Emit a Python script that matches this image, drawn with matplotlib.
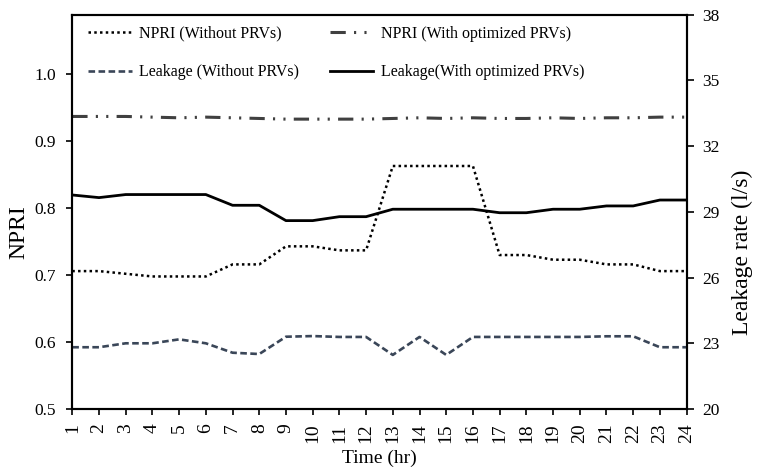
import matplotlib
matplotlib.use("Agg")
import matplotlib.pyplot as plt

hours = list(range(1, 25))
npri_without = [0.706, 0.706, 0.702, 0.698, 0.698, 0.698, 0.716, 0.716, 0.743, 0.743, 0.737, 0.737,
                0.863, 0.863, 0.863, 0.863, 0.730, 0.730, 0.723, 0.723, 0.716, 0.716, 0.706, 0.706]
npri_with = [0.937, 0.937, 0.937, 0.936, 0.935, 0.936, 0.935, 0.934, 0.933, 0.933, 0.933, 0.933,
             0.934, 0.935, 0.934, 0.935, 0.934, 0.934, 0.935, 0.934, 0.935, 0.935, 0.936, 0.936]
leak_without = [22.82, 22.82, 23.0, 23.0, 23.18, 23.0, 22.57, 22.51, 23.30, 23.33, 23.29, 23.29,
                22.47, 23.29, 22.47, 23.29, 23.29, 23.29, 23.29, 23.29, 23.32, 23.32, 22.82, 22.82]
leak_with = [29.77, 29.65, 29.79, 29.79, 29.79, 29.79, 29.30, 29.30, 28.60, 28.60, 28.78, 28.78,
             29.12, 29.12, 29.12, 29.12, 28.96, 28.96, 29.12, 29.12, 29.27, 29.27, 29.54, 29.54]
left_ticks = [0.5, 0.6, 0.7, 0.8, 0.9, 1.0]
right_ticks = [20, 23, 26, 29, 32, 35, 38]

plt.rcParams['font.family'] = ['Liberation Serif', 'DejaVu Serif']

fig = plt.figure(figsize=(7.57, 4.71), dpi=100)
ax = fig.add_axes([0.0955, 0.1316, 0.8115, 0.8372])
ax2 = ax.twinx()

l1, = ax.plot(hours, npri_without, color='black', lw=1.8, linestyle=(0, (1, 1.3)))
l2, = ax.plot(hours, npri_with, color='#404040', lw=2.2,
              linestyle=(0, (5, 2.7, 0.7, 2.7, 0.7, 2.7)))
l3, = ax2.plot(hours, leak_without, color='#3a4658', lw=1.9, linestyle=(0, (2.5, 1.3)))
l4, = ax2.plot(hours, leak_with, color='black', lw=2.0)

ax.set_xlim(1, 24)
ax.set_ylim(0.5, 1.089)
ax.set_yticks(left_ticks)
ax.set_yticklabels([f"{v:.1f}" for v in left_ticks])
ax2.set_ylim(20, 38)
ax2.set_yticks(right_ticks)
ax.set_xticks(hours)
ax.set_xticklabels([str(h) for h in hours], rotation=90)

for a in (ax, ax2):
    for s in a.spines.values():
        s.set_linewidth(1.5)
ax.tick_params(axis='y', direction='out', length=4, width=1.2, labelsize=12.5, pad=8)
ax2.tick_params(axis='y', direction='out', length=5, width=1.2, labelsize=12.5, pad=6)
ax.tick_params(axis='x', direction='out', length=4.5, width=1.2, labelsize=14, pad=6)

ax.set_ylabel('NPRI', fontsize=17, va='center')
ax.yaxis.set_label_coords(-0.087, 0.449)
ax2.set_ylabel('Leakage rate (l/s)', fontsize=17, va='center')
ax2.yaxis.set_label_coords(1.0916, 0.398)
ax.set_xlabel('Time (hr)', fontsize=14, va='center')
ax.xaxis.set_label_coords(0.5, -0.124)

leg = ax.legend([l1, l3, l2, l4],
                ['NPRI (Without PRVs)', 'Leakage (Without PRVs)',
                 'NPRI (With optimized PRVs)', 'Leakage(With optimized PRVs)'],
                ncol=2, frameon=False, loc='upper left', bbox_to_anchor=(0.008, 1.0),
                fontsize=11.5, handlelength=2.7, handletextpad=0.5, columnspacing=1.9,
                labelspacing=1.4, borderaxespad=0.3)

fig.savefig('out.png', dpi=100)
